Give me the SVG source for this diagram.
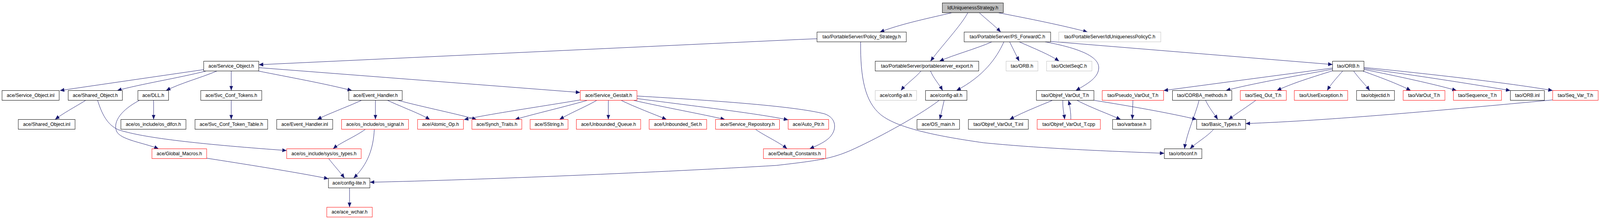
<svg xmlns="http://www.w3.org/2000/svg" width="4328" height="560" viewBox="0 0 4328 560">
<style>
rect{fill:#ffffff;stroke:#000000;stroke-width:1}
rect.r{stroke:#ff0000}
rect.g{stroke:#bfbfbf}
rect.top{fill:#bfbfbf}
text{font-family:"Liberation Sans",Arial,sans-serif;font-size:13px;text-anchor:middle;fill:#000000}
#edges path{fill:none;stroke:#191970;stroke-width:1;marker-end:url(#a)}
</style>
<defs>
<marker id="a" markerWidth="12" markerHeight="10" refX="12" refY="5" orient="auto" markerUnits="userSpaceOnUse"><path d="M0,0 L12,5 L0,10 z" fill="#191970"/></marker>
</defs>
<g transform="matrix(0.9464 0 0 1 0 0)">
<g id="edges">
<path d="M2575,32.5 C2520,45 2440,60 2380,82"/>
<path d="M2618,32.5 C2600,65 2545,120 2517,156.5"/>
<path d="M2649,32.5 C2665,47 2690,65 2707,82"/>
<path d="M2700,32.5 C2780,47 2880,66 2942,82"/>
<path d="M2210,99 L2160,101 L700,165.5"/>
<path d="M2328,107 C2327,200 2340,260 2382,293 C2430,330 2550,350 2660,365 C2800,378 2950,385 3149.5,392"/>
<path d="M2683,107 C2640,125 2580,140 2541,156.5"/>
<path d="M2715.5,107 C2695,150 2660,195 2587,231.5"/>
<path d="M2731,107 L2757,156.5"/>
<path d="M2757,107 C2800,125 2840,140 2865,156.5"/>
<path d="M2827,107 C2900,120 2975,140 2972,175 C2970,200 2940,215 2910,231.5"/>
<path d="M2842,106 L3604.5,165"/>
<path d="M2491.5,181.5 C2475,200 2450,215 2437,231.5"/>
<path d="M2517,181.5 C2525,200 2540,215 2550,231.5"/>
<path d="M2554,256.5 L2542,305.5"/>
<path d="M2540,257 C2480,300 2360,360 2300,385 C2250,405 2220,410 2100,423 C1800,440 1300,460 1000.5,466"/>
<path d="M551,178 L162,231.5"/>
<path d="M558,181.5 C480,200 380,215 317,231.5"/>
<path d="M587,181.5 C540,200 490,212 449,231.5"/>
<path d="M625.5,181.5 L625.5,231.5"/>
<path d="M698,181.5 C780,197 880,214 952,231.5"/>
<path d="M700,173 L1569.5,236.5"/>
<path d="M1569.5,255.5 C1480,270 1320,292 1255,306"/>
<path d="M1589,256.5 C1520,275 1450,290 1393,305.5"/>
<path d="M1614.5,256.5 C1580,275 1540,290 1513.5,305.5"/>
<path d="M1645.5,256.5 L1645.5,305.5"/>
<path d="M1680,256.5 C1720,275 1770,292 1803,305.5"/>
<path d="M1713,256.5 C1800,275 1900,292 1961,305.5"/>
<path d="M1723,252 C1850,268 2050,290 2132,306.5"/>
<path d="M1723,245.5 C1950,258 2150,272 2230,291 C2265,302 2265,335 2240,355 C2225,367 2205,374 2190,380.5"/>
<path d="M2044,331 C2070,348 2110,365 2129,380.5"/>
<path d="M978,256.5 C935,275 885,292 858,305.5"/>
<path d="M1015.5,256.5 L1015.5,305.5"/>
<path d="M1048,256.5 C1090,275 1140,292 1163,306"/>
<path d="M1076,256.5 C1150,275 1240,292 1289,305.5"/>
<path d="M988.5,330.5 C960,350 920,365 901,380.5"/>
<path d="M1012.5,330.5 C1010,380 995,420 956.5,455.5"/>
<path d="M889,405.5 C905,425 920,440 932,455.5"/>
<path d="M945.5,480.5 L945.5,530"/>
<path d="M232,256.5 C200,275 170,290 149,305.5"/>
<path d="M264,256.5 C275,290 290,320 321,332 C380,350 500,365 720,381 L775.5,385"/>
<path d="M376.5,257 C330,280 305,310 315,335 C325,358 390,365 429,380.5"/>
<path d="M415.5,256.5 L415.5,305.5"/>
<path d="M559,404.5 C650,418 800,440 888.5,457"/>
<path d="M625.5,256.5 L625.5,305.5"/>
<path d="M2847,256.5 C2800,275 2760,290 2731,305.5"/>
<path d="M2875,256.5 C2874,275 2878,290 2880,305.5"/>
<path d="M2896.5,305.5 C2897,290 2894,270 2890,256.5"/>
<path d="M2913,256.5 C2950,275 3000,292 3031.5,305.5"/>
<path d="M2959,256.5 C3050,270 3170,290 3237,305.5"/>
<path d="M3064.5,256.5 L3063,305.5"/>
<path d="M3243.5,256.5 C3235,290 3210,340 3204,380.5"/>
<path d="M3261,256.5 C3270,275 3285,292 3294,305.5"/>
<path d="M3397,256.5 C3375,272 3345,290 3323,305.5"/>
<path d="M3283,330.5 C3265,350 3235,365 3219,380.5"/>
<path d="M4200,255.5 C3900,282 3600,308 3369.5,316"/>
<path d="M3604.5,174 L3147.5,231.5"/>
<path d="M3604.5,177 C3500,195 3380,215 3316,231.5"/>
<path d="M3604.5,181 C3540,200 3490,215 3454,231.5"/>
<path d="M3632,181.5 C3615,200 3600,215 3590,231.5"/>
<path d="M3661.5,181.5 C3675,200 3695,218 3705,231.5"/>
<path d="M3686,181.5 C3740,200 3790,218 3816,231.5"/>
<path d="M3689.5,177.5 C3780,195 3880,215 3940,231.5"/>
<path d="M3689.5,175 C3850,195 4000,218 4085.5,231.5"/>
<path d="M3689.5,172.5 C3900,192 4100,215 4200,231.5"/>
</g>
<g id="n0"><rect class="top" x="2549" y="7.5" width="165" height="25"/><text x="2631.5" y="24">IdUniquenessStrategy.h</text></g>
<g id="n1"><rect x="2210" y="82" width="241.5" height="25"/><text x="2330.75" y="98.5">tao/PortableServer/Policy_Strategy.h</text></g>
<g id="n2"><rect x="2608" y="82" width="234" height="25"/><text x="2725" y="98.5">tao/PortableServer/PS_ForwardC.h</text></g>
<g id="n3"><rect class="g" x="2864" y="82" width="276" height="25"/><text x="3002" y="98.5">tao/PortableServer/IdUniquenessPolicyC.h</text></g>
<g id="n4"><rect x="551" y="156.5" width="149" height="25"/><text x="625.5" y="173">ace/Service_Object.h</text></g>
<g id="n5"><rect x="2367.5" y="156.5" width="280" height="25"/><text x="2507.5" y="173">tao/PortableServer/portableserver_export.h</text></g>
<g id="n6"><rect class="g" x="2721.5" y="156.5" width="86" height="25"/><text x="2764.5" y="173">tao/ORB.h</text></g>
<g id="n7"><rect class="g" x="2831" y="156.5" width="122.5" height="25"/><text x="2892.25" y="173">tao/OctetSeqC.h</text></g>
<g id="n8"><rect x="3604.5" y="156.5" width="85" height="25"/><text x="3647" y="173">tao/ORB.h</text></g>
<g id="n9"><rect x="5.5" y="231.5" width="154.5" height="25"/><text x="82.75" y="248">ace/Service_Object.inl</text></g>
<g id="n10"><rect x="184.5" y="231.5" width="146.5" height="25"/><text x="257.75" y="248">ace/Shared_Object.h</text></g>
<g id="n11"><rect x="373" y="231.5" width="83" height="25"/><text x="414.5" y="248">ace/DLL.h</text></g>
<g id="n12"><rect x="543" y="231.5" width="165" height="25"/><text x="625.5" y="248">ace/Svc_Conf_Tokens.h</text></g>
<g id="n13"><rect x="943.5" y="231.5" width="144.5" height="25"/><text x="1015.75" y="248">ace/Event_Handler.h</text></g>
<g id="n14"><rect class="r" x="1569.5" y="231.5" width="153.5" height="25"/><text x="1646.25" y="248">ace/Service_Gestalt.h</text></g>
<g id="n15"><rect class="g" x="2367.5" y="231.5" width="112" height="25"/><text x="2423.5" y="248">ace/config-all.h</text></g>
<g id="n16"><rect x="2503.5" y="231.5" width="112" height="25"/><text x="2559.5" y="248">ace/config-all.h</text></g>
<g id="n17"><rect x="2803.5" y="231.5" width="155.5" height="25"/><text x="2881.25" y="248">tao/Objref_VarOut_T.h</text></g>
<g id="n18"><rect class="r" x="2981.5" y="231.5" width="166" height="25"/><text x="3064.5" y="248">tao/Pseudo_VarOut_T.h</text></g>
<g id="n19"><rect x="3171.5" y="231.5" width="160.5" height="25"/><text x="3251.75" y="248">tao/CORBA_methods.h</text></g>
<g id="n20"><rect class="r" x="3355" y="231.5" width="124.5" height="25"/><text x="3417.25" y="248">tao/Seq_Out_T.h</text></g>
<g id="n21"><rect class="r" x="3501" y="231.5" width="144.5" height="25"/><text x="3573.25" y="248">tao/UserException.h</text></g>
<g id="n22"><rect x="3669.5" y="231.5" width="102.5" height="25"/><text x="3720.75" y="248">tao/objectid.h</text></g>
<g id="n23"><rect class="r" x="3795.5" y="231.5" width="113" height="25"/><text x="3852" y="248">tao/VarOut_T.h</text></g>
<g id="n24"><rect class="r" x="3931.5" y="231.5" width="130" height="25"/><text x="3996.5" y="248">tao/Sequence_T.h</text></g>
<g id="n25"><rect x="4085.5" y="231.5" width="92" height="25"/><text x="4131.5" y="248">tao/ORB.inl</text></g>
<g id="n26"><rect class="r" x="4200" y="231.5" width="123" height="25"/><text x="4261.5" y="248">tao/Seq_Var_T.h</text></g>
<g id="n27"><rect x="49.5" y="305.5" width="153.5" height="25"/><text x="126.25" y="322">ace/Shared_Object.inl</text></g>
<g id="n28"><rect x="327" y="305.5" width="176" height="25"/><text x="415" y="322">ace/os_include/os_dlfcn.h</text></g>
<g id="n29"><rect x="527.5" y="305.5" width="196.5" height="25"/><text x="625.75" y="322">ace/Svc_Conf_Token_Table.h</text></g>
<g id="n30"><rect x="748.5" y="305.5" width="151.5" height="25"/><text x="824.25" y="322">ace/Event_Handler.inl</text></g>
<g id="n31"><rect class="r" x="924" y="305.5" width="181" height="25"/><text x="1014.5" y="322">ace/os_include/os_signal.h</text></g>
<g id="n32"><rect class="r" x="1129.5" y="305.5" width="124" height="25"/><text x="1191.5" y="322">ace/Atomic_Op.h</text></g>
<g id="n33"><rect class="r" x="1276.5" y="305.5" width="135" height="25"/><text x="1344" y="322">ace/Synch_Traits.h</text></g>
<g id="n34"><rect class="r" x="1434" y="305.5" width="102.5" height="25"/><text x="1485.25" y="322">ace/SString.h</text></g>
<g id="n35"><rect class="r" x="1559" y="305.5" width="174" height="25"/><text x="1646" y="322">ace/Unbounded_Queue.h</text></g>
<g id="n36"><rect class="r" x="1756" y="305.5" width="155.5" height="25"/><text x="1833.75" y="322">ace/Unbounded_Set.h</text></g>
<g id="n37"><rect class="r" x="1935.5" y="305.5" width="173" height="25"/><text x="2022" y="322">ace/Service_Repository.h</text></g>
<g id="n38"><rect class="r" x="2132" y="305.5" width="109.5" height="25"/><text x="2186.75" y="322">ace/Auto_Ptr.h</text></g>
<g id="n39"><rect x="2480.5" y="305.5" width="115" height="25"/><text x="2538" y="322">ace/OS_main.h</text></g>
<g id="n40"><rect x="2619.5" y="305.5" width="162" height="25"/><text x="2700.5" y="322">tao/Objref_VarOut_T.inl</text></g>
<g id="n41"><rect class="r" x="2805.5" y="305.5" width="171" height="25"/><text x="2891" y="322">tao/Objref_VarOut_T.cpp</text></g>
<g id="n42"><rect x="3009.5" y="305.5" width="103.5" height="25"/><text x="3061.25" y="322">tao/varbase.h</text></g>
<g id="n43"><rect x="3237" y="305.5" width="132.5" height="25"/><text x="3303.25" y="322">tao/Basic_Types.h</text></g>
<g id="n44"><rect class="r" x="411" y="380.5" width="148" height="25"/><text x="485" y="397">ace/Global_Macros.h</text></g>
<g id="n45"><rect class="r" x="775.5" y="380.5" width="201.5" height="25"/><text x="876.25" y="397">ace/os_include/sys/os_types.h</text></g>
<g id="n46"><rect class="r" x="2065" y="380.5" width="168.5" height="25"/><text x="2149.25" y="397">ace/Default_Constants.h</text></g>
<g id="n47"><rect x="3149.5" y="380.5" width="101.5" height="25"/><text x="3200.25" y="397">tao/orbconf.h</text></g>
<g id="n48"><rect x="888.5" y="455.5" width="112" height="25"/><text x="944.5" y="472">ace/config-lite.h</text></g>
<g id="n49"><rect class="r" x="884" y="530" width="123" height="25"/><text x="945.5" y="546.5">ace/ace_wchar.h</text></g>
</g>
</svg>
